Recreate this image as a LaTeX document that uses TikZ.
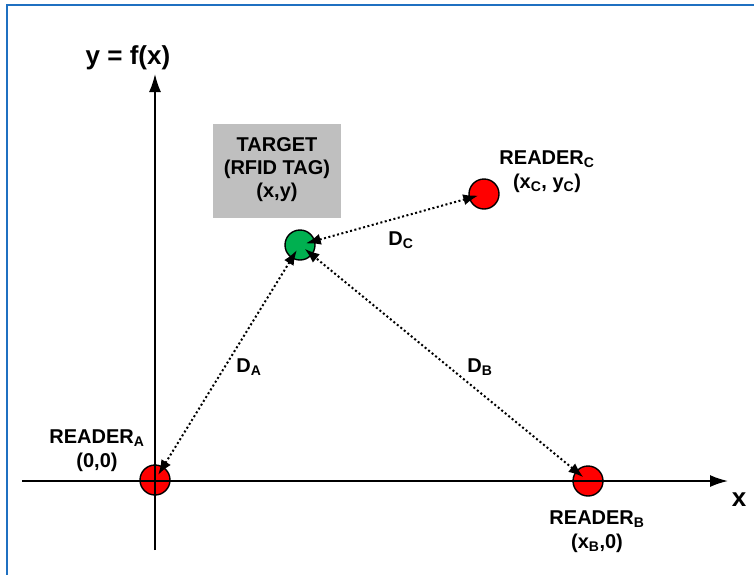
\documentclass[tikz,border=0pt]{standalone}
\usepackage{fontspec}
\setmainfont{Liberation Sans}
\usetikzlibrary{arrows.meta}
\definecolor{frameblue}{HTML}{1F70C1}
\definecolor{boxgray}{HTML}{BFBFBF}
\definecolor{tagreen}{HTML}{00B050}
\tikzset{
  lbl/.style={font=\bfseries\fontsize{20}{24}\selectfont, align=center, inner sep=0pt},
  boxlbl/.style={font=\bfseries\fontsize{20}{23}\selectfont, align=center, inner sep=0pt},
  reader/.style={circle, draw=black, line width=1.4pt, fill=red, minimum size=30pt, inner sep=0pt},
  tag/.style={circle, draw=black, line width=1.4pt, fill=tagreen, minimum size=30pt, inner sep=0pt},
  axis/.style={line width=1.7pt, -{Latex[length=18pt,width=12pt]}},
  dist/.style={line width=2pt, dash pattern=on 2pt off 2.5pt, {Latex[length=15pt,width=11pt]}-{Latex[length=15pt,width=11pt]}, shorten <=6pt, shorten >=6pt}
}
\begin{document}
\begin{tikzpicture}[x=1pt,y=-1pt]
\useasboundingbox (0,0) rectangle (754,574);
\fill[white] (0,0) rectangle (754,574);
\draw[frameblue, line width=2.5pt] (7,590) -- (7,5) -- (770,5);
% circles
\node[reader] (A) at (155,480) {};
\node[reader] (B) at (588,481) {};
\node[reader] (C) at (484,194) {};
\node[tag] (T) at (300,245) {};
% axes
\coordinate (ybot) at (155,550);
\coordinate (ytop) at (155,74);
\coordinate (xleft) at (22,481);
\coordinate (xright) at (728,481);
\draw[axis] (ybot) -- (ytop);
\draw[axis] (xleft) -- (xright);
\node[lbl, font=\bfseries\fontsize{26}{30}\selectfont] (ylab) at (128,58) {y = f(x)};
\node[lbl, font=\bfseries\fontsize{26}{30}\selectfont] (xlab) at (739,500) {x};
% target box
\node[fill=boxgray, minimum width=128pt, minimum height=94pt, inner sep=0pt] (box) at (277,171) {};
\node[boxlbl] (boxtxt) at (277,170) {TARGET\\(RFID TAG)\\(x,y)};
% distances
\draw[dist] (A.center) -- (T.center);
\draw[dist] (B.center) -- (T.center);
\draw[dist] (C.center) -- (T.center);
% labels
\node[lbl] (la) at (97,451) {READER\textsubscript{A}\\(0,0)};
\node[lbl] (lc) at (547,172) {READER\textsubscript{C}\\(x\textsubscript{C}, y\textsubscript{C})};
\node[lbl] (lb) at (597,532) {READER\textsubscript{B}\\(x\textsubscript{B},0)};
\node[lbl] (da) at (249,367) {D\textsubscript{A}};
\node[lbl] (db) at (480,367) {D\textsubscript{B}};
\node[lbl] (dc) at (401,240) {D\textsubscript{C}};
\end{tikzpicture}
\end{document}
